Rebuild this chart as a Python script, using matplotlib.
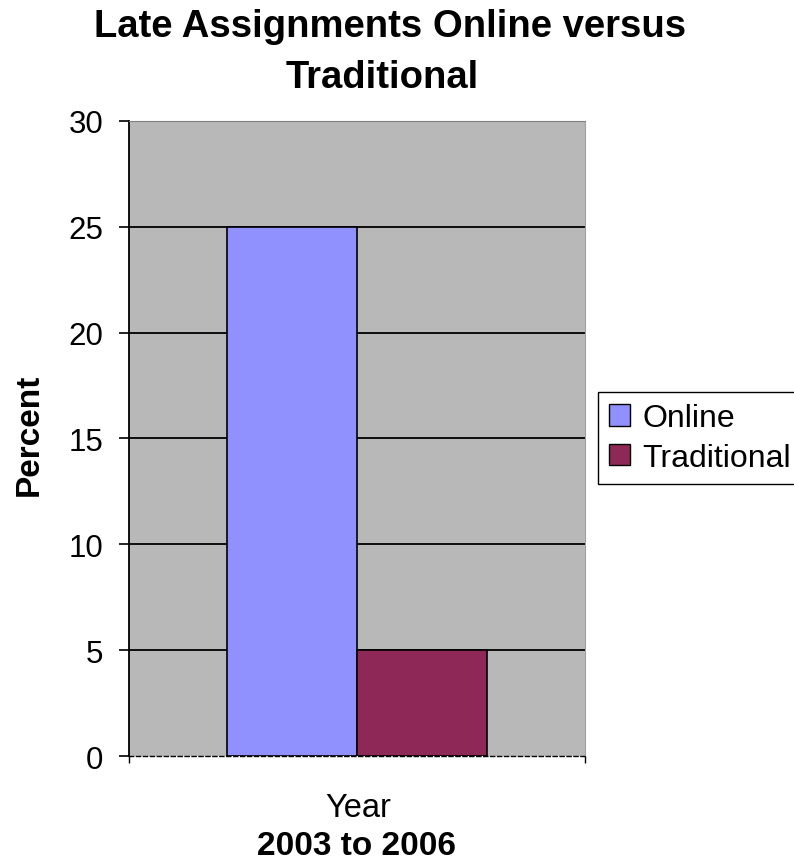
import matplotlib.pyplot as plt
from matplotlib.patches import Patch

plt.rcParams['font.family'] = ['Liberation Sans', 'DejaVu Sans']

series = ['Online', 'Traditional']
values = [25, 5]
colors = ['#9090FF', '#8E2856']
y_ticks = [0, 5, 10, 15, 20, 25, 30]

fig = plt.figure(figsize=(7.94, 8.62), dpi=100)
ax = fig.add_axes([0.1625, 0.1218, 0.5743, 0.7367])
ax.set_facecolor('#B8B8B8')

# bars sit side by side in one group
ax.bar(range(len(series)), values, width=1.0, color=colors,
       edgecolor='black', linewidth=1.2, zorder=3)

ax.set_ylim(0, 30)
ax.set_xlim(-1.254, 2.254)
ax.set_yticks(y_ticks)
ax.tick_params(axis='y', labelsize=22.5, length=7.5, width=1.2, direction='out', pad=11)
ax.set_xticks([-1.254, 2.254])
ax.set_xticklabels(['', ''])
ax.tick_params(axis='x', length=5, width=1, direction='out')

for y in y_ticks[1:-1]:
    ax.axhline(y, color='black', linewidth=1.3, zorder=2)

ax.spines['left'].set_linewidth(1.3)
ax.spines['bottom'].set_linestyle((0, (3, 2)))
ax.spines['bottom'].set_linewidth(1)
ax.spines['top'].set_color('#808080')
ax.spines['right'].set_color('#A0A0A0')

fig.text(0.037, 0.495, 'Percent', rotation=90, ha='center', va='center',
         fontsize=24, fontweight='bold')
fig.text(0.451, 0.062, 'Year', ha='center', va='center', fontsize=23.5)
fig.text(0.449, 0.018, '2003 to 2006', ha='center', va='center',
         fontsize=24, fontweight='bold')

# title in two lines, second one sits a little left like the original
fig.text(0.491, 0.957, 'Late Assignments Online versus', ha='center',
         va='baseline', fontsize=27.5, fontweight='bold')
fig.text(0.482, 0.898, 'Traditional', ha='center',
         va='baseline', fontsize=27.5, fontweight='bold')

handles = [Patch(facecolor=c, edgecolor='black', label=s) for s, c in zip(series, colors)]
leg = fig.legend(handles=handles, loc='upper left', bbox_to_anchor=(0.753, 0.544),
                 borderaxespad=0, fontsize=23, frameon=True, fancybox=False,
                 handlelength=0.65, handleheight=0.65, handletextpad=0.4,
                 borderpad=0.35, labelspacing=0.3)
leg.get_frame().set_edgecolor('black')
leg.get_frame().set_linewidth(1)
leg.get_frame().set_alpha(1)

fig.savefig('out.png', dpi=100)
